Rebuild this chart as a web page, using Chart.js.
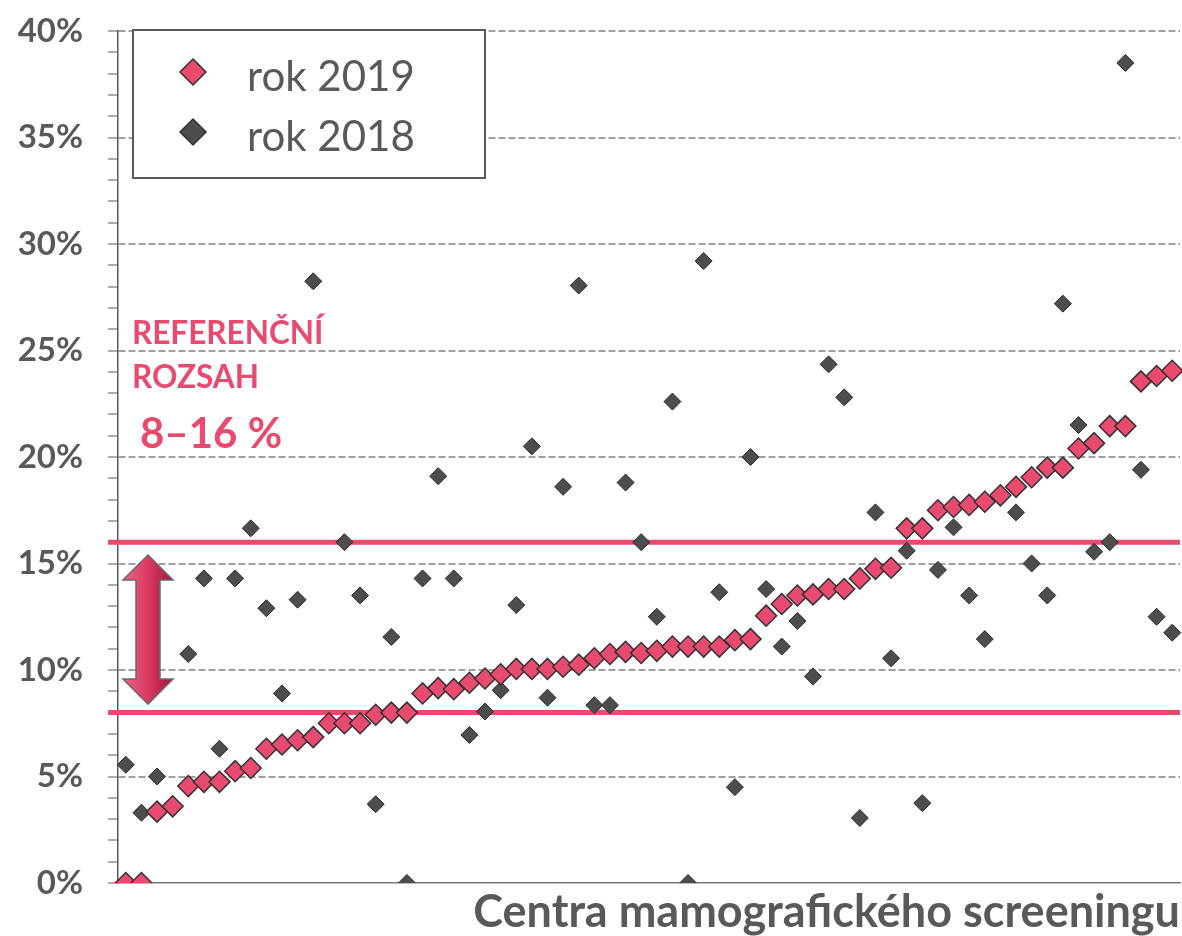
<!DOCTYPE html>
<html>
<head>
<meta charset="utf-8">
<script src="https://cdn.jsdelivr.net/npm/chart.js@4"></script>
<style>
  html, body { margin: 0; padding: 0; background: #fff; }
  #wrap { width: 1182px; height: 936px; }
</style>
</head>
<body>
<div id="wrap"><canvas id="chart" width="1182" height="936"></canvas></div>
<script>
// podíl (%) pro každé centrum, seřazeno podle roku 2019
const rok2019 = [0, 0, 3.35, 3.6, 4.55, 4.75, 4.75, 5.25, 5.4, 6.3, 6.5, 6.7, 6.85, 7.5, 7.5, 7.5, 7.9, 8.0,
  8.0, 8.9, 9.15, 9.1, 9.4, 9.6, 9.8, 10.05, 10.05, 10.05, 10.15, 10.25, 10.55, 10.75, 10.85, 10.8, 10.9,
  11.1, 11.1, 11.1, 11.1, 11.4, 11.45, 12.55, 13.1, 13.5, 13.55, 13.8, 13.8, 14.3, 14.75, 14.8, 16.65, 16.65,
  17.5, 17.65, 17.75, 17.9, 18.2, 18.6, 19.05, 19.5, 19.5, 20.4, 20.65, 21.45, 21.45, 23.55, 23.8, 24.05];
const rok2018 = [5.55, 3.3, 5.0, null, 10.75, 14.3, 6.3, 14.3, 16.65, 12.9, 8.9, 13.3, 28.25, null, 16.0, 13.5,
  3.7, 11.55, 0, 14.3, 19.1, 14.3, 6.95, 8.05, 9.05, 13.05, 20.5, 8.7, 18.6, 28.05, 8.35, 8.35, 18.8, 16.0,
  12.5, 22.6, 0, 29.2, 13.65, 4.5, 20.0, 13.8, 11.1, 12.3, 9.7, 24.35, 22.8, 3.05, 17.4, 10.55, 15.6, 3.75,
  14.7, 16.7, 13.5, 11.45, null, 17.4, 15.0, 13.5, 27.2, 21.5, 15.55, 16.0, 38.5, 19.4, 12.5, 11.75];
const centra = rok2019.map((v, i) => String(i + 1));
const seriesNames = ['rok 2019', 'rok 2018'];
const refRange = [8, 16];
const refText = ['REFERENČNÍ', 'ROZSAH', '8–16 %'];
const xTitle = 'Centra mamografického screeningu';

const pink = '#E94B70';
const dark = '#4D4D4D';
const textGray = '#595959';

// referenční čáry + šipka pod body
let refPlugin = {
  id: 'refRange',
  beforeDatasetsDraw(chart) {
    let ctx = chart.ctx;
    let area = chart.chartArea;
    let y = chart.scales.y;
    ctx.save();
    ctx.strokeStyle = pink;
    ctx.lineWidth = 5;
    refRange.forEach(v => {
      let py = y.getPixelForValue(v);
      ctx.beginPath();
      ctx.moveTo(area.left - 10, py);
      ctx.lineTo(area.right, py);
      ctx.stroke();
    });

    // šipka
    let cx = area.left + 30;
    let top = y.getPixelForValue(refRange[1] - 0.6);
    let bot = y.getPixelForValue(refRange[0] + 0.4);
    let hh = 25, hw = 25, sw = 12;
    let grad = ctx.createLinearGradient(cx - hw, 0, cx + hw, 0);
    grad.addColorStop(0, '#EE6287');
    grad.addColorStop(0.5, '#D93A62');
    grad.addColorStop(1, '#A3153A');
    ctx.beginPath();
    ctx.moveTo(cx, top);
    ctx.lineTo(cx + hw, top + hh);
    ctx.lineTo(cx + sw, top + hh);
    ctx.lineTo(cx + sw, bot - hh);
    ctx.lineTo(cx + hw, bot - hh);
    ctx.lineTo(cx, bot);
    ctx.lineTo(cx - hw, bot - hh);
    ctx.lineTo(cx - sw, bot - hh);
    ctx.lineTo(cx - sw, top + hh);
    ctx.lineTo(cx - hw, top + hh);
    ctx.closePath();
    ctx.fillStyle = grad;
    ctx.fill();
    ctx.strokeStyle = '#6A6A6A';
    ctx.lineWidth = 1.5;
    ctx.stroke();

    // popisky
    ctx.fillStyle = pink;
    ctx.textAlign = 'left';
    ctx.textBaseline = 'alphabetic';
    ctx.font = 'bold 31.5px Lato';
    ctx.fillText(refText[0], area.left + 14, y.getPixelForValue(25.3));
    ctx.fillText(refText[1], area.left + 14, y.getPixelForValue(23.25));
    ctx.font = 'bold 42px Lato';
    ctx.fillText(refText[2], area.left + 22, y.getPixelForValue(20.4));
    ctx.restore();
  }
};

let diamond = function(ctx, x, y, r, fill, stroke, lw) {
  ctx.beginPath();
  ctx.moveTo(x, y - r);
  ctx.lineTo(x + r, y);
  ctx.lineTo(x, y + r);
  ctx.lineTo(x - r, y);
  ctx.closePath();
  ctx.fillStyle = fill;
  ctx.fill();
  ctx.strokeStyle = stroke;
  ctx.lineWidth = lw;
  ctx.stroke();
}

// legenda v rámečku vlevo nahoře
let legendPlugin = {
  id: 'boxLegend',
  afterDraw(chart) {
    let ctx = chart.ctx;
    let area = chart.chartArea;
    let bx = area.left + 15, by = area.top - 1;
    ctx.save();
    ctx.fillStyle = '#fff';
    ctx.fillRect(bx, by, 352, 148);
    ctx.strokeStyle = textGray;
    ctx.lineWidth = 2;
    ctx.strokeRect(bx, by, 352, 148);
    chart.data.datasets.forEach((ds, i) => {
      let my = by + 42 + 60 * i;
      diamond(ctx, bx + 60, my, 13, ds.backgroundColor, '#333', 1.5);
      ctx.fillStyle = textGray;
      ctx.font = '42px Lato';
      ctx.textAlign = 'left';
      ctx.textBaseline = 'alphabetic';
      ctx.fillText(ds.label, bx + 114, my + 19);
    });
    ctx.restore();
  }
};

let makeChart = function() {
  let ctx = document.getElementById('chart').getContext('2d');
  new Chart(ctx, {
    type: 'line',
    data: {
      labels: centra,
      datasets: [{
        label: seriesNames[0],
        data: rok2019,
        showLine: false,
        pointStyle: 'rectRot',
        pointRadius: 10.5,
        backgroundColor: pink,
        borderColor: '#333',
        borderWidth: 1.5
      }, {
        label: seriesNames[1],
        data: rok2018,
        showLine: false,
        pointStyle: 'rectRot',
        pointRadius: 8.5,
        backgroundColor: dark,
        borderColor: '#2B2B2B',
        borderWidth: 1
      }]
    },
    options: {
      responsive: false,
      animation: false,
      devicePixelRatio: 1,
      events: [],
      layout: { autoPadding: false, padding: { top: 31, right: 2, left: 0, bottom: 0 } },
      plugins: {
        legend: { display: false },
        tooltip: { enabled: false }
      },
      scales: {
        x: {
          offset: true,
          afterFit: s => { s.height = 53; },
          ticks: { display: false },
          grid: { display: false },
          border: { display: true, color: '#767676', width: 1.5 },
          title: {
            display: true,
            text: xTitle,
            align: 'end',
            color: textGray,
            font: { family: 'Lato', weight: 'bold', size: 45 },
            padding: { top: 0, bottom: -3 }
          }
        },
        y: {
          min: 0,
          max: 40,
          afterFit: s => {
            s.width = 118;
            s.paddingTop = 0;
            s.paddingBottom = 0;
          },
          ticks: {
            stepSize: 1,
            autoSkip: false,
            padding: 25,
            color: textGray,
            font: { family: 'Lato', weight: 'bold', size: 33 },
            callback: v => v % 5 === 0 ? v + '%' : ''
          },
          grid: {
            color: c => (c.tick && c.tick.value % 5 === 0 && c.tick.value > 0) ? '#A0A0A0' : 'rgba(0,0,0,0)',
            lineWidth: 2,
            tickColor: textGray,
            tickLength: 10,
            tickWidth: 1
          },
          border: { display: true, color: textGray, width: 1.5, dash: [7, 3] }
        }
      }
    },
    plugins: [refPlugin, legendPlugin]
  });
}

Promise.all([
  document.fonts.load('bold 33px Lato'),
  document.fonts.load('42px Lato')
]).then(makeChart, makeChart);
</script>
</body>
</html>
